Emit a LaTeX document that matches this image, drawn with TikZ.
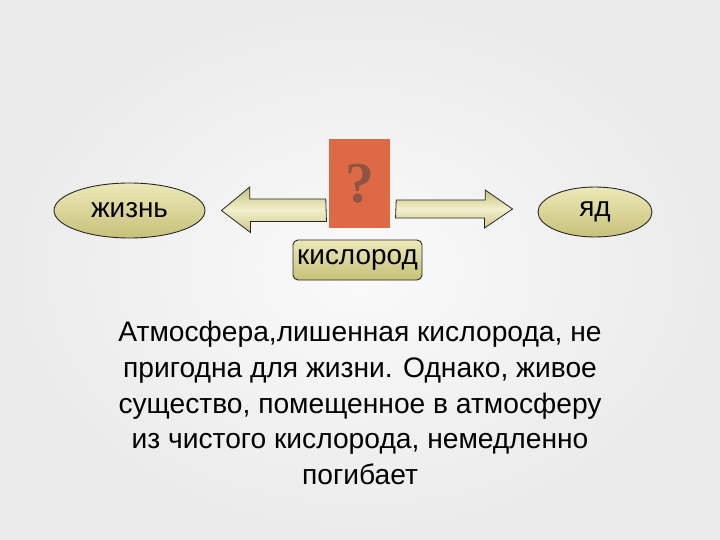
\documentclass[tikz,border=0pt]{standalone}
\usepackage{fontspec}
\setmainfont{Liberation Sans}
\newfontfamily\qfont{Liberation Serif}
\usetikzlibrary{shapes.geometric, positioning, calc}
\definecolor{olivelt}{HTML}{ECE9B8}
\definecolor{olivedk}{HTML}{C8C17A}
\definecolor{boxred}{HTML}{DE6A45}
\definecolor{qmark}{HTML}{8E5444}

\begin{document}
\begin{tikzpicture}[
    x=1bp, y=-1bp,
    every node/.style={font=\fontsize{28}{32}\selectfont},
    oval/.style={ellipse, draw=black!85, line width=0.9pt, top color=olivelt, bottom color=olivedk, inner sep=0pt},
    tag/.style={rectangle, draw=black!85, line width=0.9pt, rounded corners=5pt, top color=olivelt, bottom color=olivedk, minimum width=129bp, minimum height=40bp, inner sep=0pt},
    qbox/.style={rectangle, fill=boxred, minimum width=61bp, minimum height=89bp, inner sep=0pt},
    fat/.style={draw=black!85, line width=0.8pt, top color=olivedk, bottom color=olivedk!80!olivelt, middle color=olivelt!70!white}
]
    % background
    \shade[inner color=gray!4, outer color=gray!16] (0,0) rectangle (720,540);
    \useasboundingbox (0,0) rectangle (720,540);

    \node[qbox]                                      (q)    at (359.5,183.5) {};
    \node[font=\qfont\bfseries\fontsize{58}{58}\selectfont, text=qmark] (qm) at (q.center) {?};
    \node[oval, minimum width=151bp, minimum height=55bp] (life) at (129.5,210.5) {жизнь};
    \node[oval, minimum width=114bp, minimum height=50bp] (poison) at (595,212) {яд};
    \node[tag]                                       (oxy)  at (357.5,260) {кислород};

    % block arrows out of the box
    \draw[fat] ($(q.west)+(-3,15.5)$) -- ++(-76,0) -- ++(0,-12) -- ($(life.east)+(16,0)$)
        -- ++(29,22) -- ++(0,-11) -- ++(76,0) -- cycle;
    \draw[fat] ($(q.east)+(6,16.5)$) -- ++(89,0) -- ++(0,-10) -- ($(poison.west)+(-25,-3)$)
        -- ++(-28,19) -- ++(0,-10) -- ++(-89,0) -- cycle;

    \node[align=center, font=\fontsize{28.3}{36}\selectfont] (note) at (360,403)
        {Атмосфера,лишенная кислорода, не\\
         пригодна для жизни. Однако, живое\\
         существо, помещенное в атмосферу\\
         из чистого кислорода, немедленно\\
         погибает};
\end{tikzpicture}
\end{document}
